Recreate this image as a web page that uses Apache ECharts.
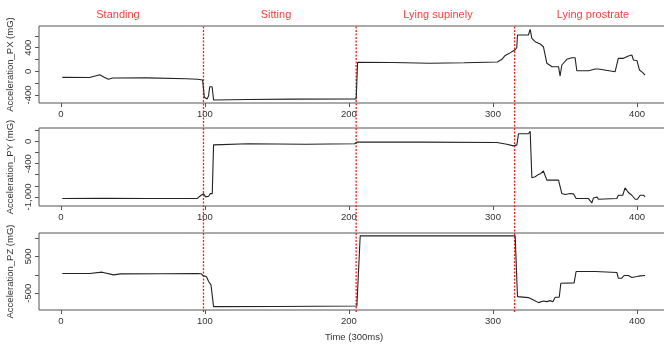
<!DOCTYPE html>
<html>
<head>
<meta charset="utf-8">
<script src="https://cdn.jsdelivr.net/npm/echarts@6/dist/echarts.min.js"></script>
<style>
  html, body { margin: 0; padding: 0; background: #fff; overflow: hidden; }
  /* the plot box runs past the right edge of the picture, so the canvas is a bit wider */
  #chart { width: 670px; height: 347px; }
</style>
</head>
<body>
<div id="chart"></div>
<script>
// activity labels and change points (time index)
const activities = ['Standing', 'Sitting', 'Lying supinely', 'Lying prostrate'];
const changePoints = [99, 205, 315];
const xTicks = [0, 100, 200, 300, 400];

// Acceleration_PX (mG)
const pxTime = [1, 20, 27, 28, 30, 33, 36, 60, 87, 95, 98.4, 99.6, 101.5, 102.5, 103.3, 105, 106, 130, 160, 205, 206, 230, 256, 280, 303, 306, 308.5, 311, 313, 315.4, 316.5, 317, 324.6, 325.8, 327, 329.3, 332.8, 335, 337.4, 341, 345.5, 346.6, 347.8, 351.3, 354.8, 357, 358.2, 366.3, 371, 373.2, 374.4, 384.8, 387, 390.6, 394, 396.4, 397.5, 400, 401.7, 403.8, 405.6];
const pxValue = [-102, -104, -58, -65, -100, -136, -114, -112, -125, -135, -147, -441, -470, -420, -261, -261, -486, -478, -472, -470, 153, 150, 136, 145, 158, 200, 270, 300, 330, 365, 400, 615, 615, 712, 559, 502, 463, 417, 136, 78, 78, -80, 107, 203, 231, 231, 10, 10, 39, 39, 17, -7, 220, 220, 259, 276, 192, 180, 22, -17, -63];

// Acceleration_PY (mG)
const pyTime = [1, 30, 60, 94.5, 97.3, 99, 100.5, 102.6, 103.7, 105.1, 106, 130, 170, 204, 205.5, 250, 302.7, 309.6, 314.2, 316.6, 317.7, 324.6, 325.8, 327, 329.3, 331.6, 333.2, 335, 336.2, 337.4, 345.5, 347.8, 350.1, 353.6, 355.9, 357.7, 366.3, 368.6, 369.8, 372.2, 373.2, 386, 387, 390.1, 391.7, 394, 396.4, 398.7, 400.3, 402.2, 404.5, 405.6];
const pyValue = [-1030, -1024, -1030, -1030, -970, -940, -1000, -988, -940, -940, -61, -42, -50, -42, -12, -12, -18, -49, -79, -61, 139, 139, 182, -654, -636, -594, -576, -533, -533, -697, -697, -939, -957, -939, -945, -1030, -1030, -1109, -1018, -1000, -1042, -1030, -970, -970, -836, -921, -970, -1042, -1042, -970, -970, -1000];

// Acceleration_PZ (mG)
const pzTime = [1, 20, 28.6, 36.6, 41.3, 70, 94.5, 97.3, 99, 101, 102.6, 104.2, 105.3, 106, 150, 205.5, 207.8, 260, 315.4, 317, 324.6, 328.1, 331.6, 335, 337.4, 339.7, 341.6, 343.2, 346, 347.1, 356.3, 357.7, 371, 371.7, 386, 387, 389.4, 391, 394, 396.4, 400, 402.2, 405.6];
const pzValue = [36, 36, 73, 0, 27, 30, 36, 30, -27, -45, -182, -273, -273, -864, -860, -845, 1064, 1060, 1064, -591, -618, -682, -755, -709, -728, -700, -728, -609, -609, -227, -218, 91, 91, 64, 64, -91, -91, -18, -18, -73, -45, -27, -18];

const panels = [
  { name: 'Acceleration_PX (mG)', t: pxTime, v: pxValue, min: -537, max: 768,
    ticks: [-400, -200, 0, 200, 400, 600], labels: [-400, 0, 400], top: 26, height: 77 },
  { name: 'Acceleration_PY (mG)', t: pyTime, v: pyValue, min: -1164, max: 243,
    ticks: [-1000, -800, -600, -400, -200, 0, 200], labels: [-1000, -400, 0], top: 128, height: 78 },
  { name: 'Acceleration_PZ (mG)', t: pzTime, v: pzValue, min: -955, max: 1137,
    ticks: [-500, 0, 500, 1000], labels: [-500, 500], top: 233, height: 77 }
];

const X_MIN = -15.2, X_MAX = 422.2;
const FONT = 'Liberation Sans, Arial, sans-serif';
const textColor = '#333';
const red = '#ff1a1a';
const labelRed = '#ff3b3b';

const chart = echarts.init(document.getElementById('chart'));

const grid = [], xAxis = [], yAxis = [], series = [];

// overlay grid spanning all panels, for the activity change lines
grid.push({ left: 39, right: 1, top: 26, height: 286, outerBoundsMode: 'none', containLabel: false });
xAxis.push({ type: 'value', gridIndex: 0, min: X_MIN, max: X_MAX, show: false });
yAxis.push({ type: 'value', gridIndex: 0, min: 0, max: 1, show: false });
series.push({
  name: 'change points',
  type: 'line', xAxisIndex: 0, yAxisIndex: 0, silent: true, z: 1,
  // one segment per change point, split by nulls
  data: changePoints.flatMap(x => [[x, 0], [x, 1], null]),
  connectNulls: false,
  showSymbol: false, animation: false,
  itemStyle: { color: red },
  lineStyle: { color: red, type: [2, 1.5], width: 1.3 }
});

panels.forEach((p, n) => {
  const i = n + 1;
  grid.push({
    left: 39, right: 1, top: p.top, height: p.height,
    outerBoundsMode: 'none', containLabel: false,
    show: true, borderColor: '#555', borderWidth: 1, backgroundColor: 'transparent'
  });
  xAxis.push({
    type: 'value', gridIndex: i, min: X_MIN, max: X_MAX, position: 'bottom',
    axisLine: { show: false, onZero: false },
    axisTick: { show: true, customValues: xTicks, length: 4, lineStyle: { color: '#555' } },
    axisLabel: { customValues: xTicks, color: textColor, fontSize: 9.5, fontFamily: FONT, margin: 6 },
    splitLine: { show: false },
    name: n === 2 ? 'Time (300ms)' : '',
    nameLocation: 'middle', nameGap: 22,
    nameTextStyle: { color: textColor, fontSize: 9.5, fontFamily: FONT }
  });
  yAxis.push({
    type: 'value', gridIndex: i, min: p.min, max: p.max, position: 'left',
    axisLine: { show: false, onZero: false },
    axisTick: { show: true, customValues: p.ticks, length: 4, lineStyle: { color: '#555' } },
    axisLabel: { customValues: p.labels, rotate: 90, color: textColor, fontSize: 9.5, fontFamily: FONT, margin: 6 },
    splitLine: { show: false },
    name: p.name, nameLocation: 'middle', nameGap: 21,
    nameTextStyle: { color: textColor, fontSize: 9.5, fontFamily: FONT }
  });
  series.push({
    name: p.name,
    type: 'line', xAxisIndex: i, yAxisIndex: i, z: 3,
    data: p.t.map((t, k) => [t, p.v[k]]),
    showSymbol: false, animation: false,
    itemStyle: { color: '#222' },
    lineStyle: { color: '#222', width: 1.1 }
  });
});

// label centres
const labelX = [118, 276, 438, 593];

chart.setOption({
  color: [red],
  backgroundColor: '#fff',
  animation: false,
  grid, xAxis, yAxis, series,
  graphic: activities.map((a, i) => ({
    type: 'text', x: labelX[i], y: 15,
    style: { text: a, fill: labelRed, fontSize: 11, fontFamily: FONT, align: 'center', verticalAlign: 'middle' }
  }))
});
</script>
</body>
</html>
